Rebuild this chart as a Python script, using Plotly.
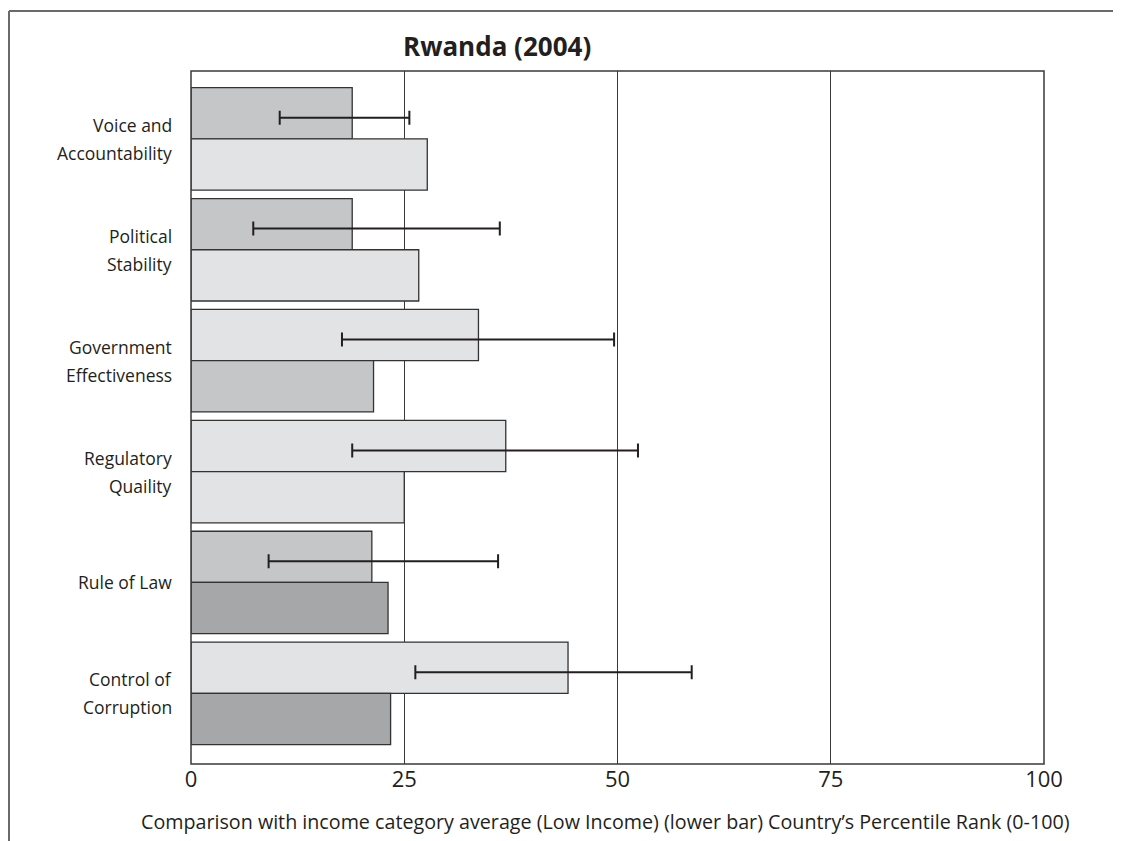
import plotly.graph_objects as go

categories = ["Voice and<br>Accountability", "Political<br>Stability", "Government<br>Effectiveness",
              "Regulatory<br>Quaility", "Rule of Law", "Control of<br>Corruption"]
country_rank = [18.9, 18.9, 33.7, 36.9, 21.2, 44.2]
rank_low = [10.4, 7.3, 17.7, 18.9, 9.1, 26.3]
rank_high = [25.6, 36.2, 49.6, 52.4, 36.0, 58.7]
income_avg = [27.7, 26.7, 21.4, 25.0, 23.1, 23.4]
country_colors = ["#c5c6c8", "#c5c6c8", "#e2e3e5", "#e2e3e5", "#c5c6c8", "#e2e3e5"]
income_colors = ["#e2e3e5", "#e2e3e5", "#c5c6c8", "#e2e3e5", "#a6a7a9", "#a6a7a9"]
x_ticks = [0, 25, 50, 75, 100]

FONT = "Open Sans"
TXT = "#231f20"
BW = 0.462
LINE_STEP = 0.2525  # vertical spacing between label lines, in category units
idx = list(range(len(categories)))

# page body has an 8px margin; plot area should be at x 191..1044, y 71..764
L, T, R, B = 183, 63, 77, 77
W, H = 1113, 833
PW, PH = W - L - R, H - T - B

fig = go.Figure()
fig.add_trace(go.Bar(
    x=country_rank, y=idx, orientation="h", offset=-BW, width=BW,
    marker=dict(color=country_colors, line=dict(color="#333333", width=1.3)),
    showlegend=False, hoverinfo="x"))
fig.add_trace(go.Bar(
    x=income_avg, y=idx, orientation="h", offset=0, width=BW,
    marker=dict(color=income_colors, line=dict(color="#333333", width=1.3)),
    showlegend=False, hoverinfo="x"))
fig.add_trace(go.Scatter(
    x=country_rank, y=[i - BW / 2 + 0.04 for i in idx], mode="markers",
    marker=dict(size=1, opacity=0),
    error_x=dict(type="data", symmetric=False,
                 array=[h - v for h, v in zip(rank_high, country_rank)],
                 arrayminus=[v - l for v, l in zip(country_rank, rank_low)],
                 color="#231f20", thickness=2, width=7),
    showlegend=False, hoverinfo="skip"))

annotations = []
for i, cat in zip(idx, categories):
    lines = cat.split("<br>")
    n = len(lines)
    for k, line in enumerate(lines):
        annotations.append(dict(
            text=line, xref="paper", yref="y", x=0, xshift=-17,
            y=i + (k - (n - 1) / 2) * LINE_STEP,
            xanchor="right", yanchor="middle", showarrow=False,
            font=dict(size=17.5, family=FONT, color=TXT)))

annotations += [
    dict(text="<b>Rwanda (2004)</b>", xref="paper", yref="paper",
         x=(497 - 191) / PW, y=(764 - 46) / PH,
         xanchor="center", yanchor="middle", showarrow=False,
         font=dict(size=26, family=FONT, color=TXT)),
    dict(text="Comparison with income category average (Low Income) (lower bar) Country\u2019s Percentile Rank (0-100)",
         xref="paper", yref="paper", x=(605 - 191) / PW, y=(764 - 822) / PH,
         xanchor="center", yanchor="middle", showarrow=False,
         font=dict(size=19.7, family=FONT, color=TXT)),
]

fx0 = (9 - 191) / PW
fy0 = (764 - 11) / PH

fig.update_layout(
    width=W, height=H,
    margin=dict(l=L, r=R, t=T, b=B),
    paper_bgcolor="white", plot_bgcolor="white",
    barmode="overlay",
    font=dict(family=FONT, color=TXT, size=17),
    xaxis=dict(range=[0, 100], tickvals=x_ticks, ticktext=[str(t) for t in x_ticks],
               showgrid=True, gridcolor="#3a3a3a", gridwidth=1, zeroline=False,
               showline=False, ticks="", tickfont=dict(size=22, family=FONT, color=TXT),
               ticklabelstandoff=0),
    yaxis=dict(range=[5.637, -0.612], tickvals=idx, ticktext=["" for _ in idx],
               showgrid=False, zeroline=False, showline=False, ticks=""),
    shapes=[
        dict(type="rect", xref="paper", yref="paper", x0=0, x1=1, y0=0, y1=1,
             line=dict(color="#3a3a3a", width=1.5), layer="above"),
        dict(type="line", xref="paper", yref="paper", x0=fx0, x1=1.2, y0=fy0, y1=fy0,
             line=dict(color="#6a6a6a", width=2)),
        dict(type="line", xref="paper", yref="paper", x0=fx0, x1=fx0, y0=fy0, y1=-0.2,
             line=dict(color="#6a6a6a", width=2)),
    ],
    annotations=annotations,
)

fig.write_html("out.html")
